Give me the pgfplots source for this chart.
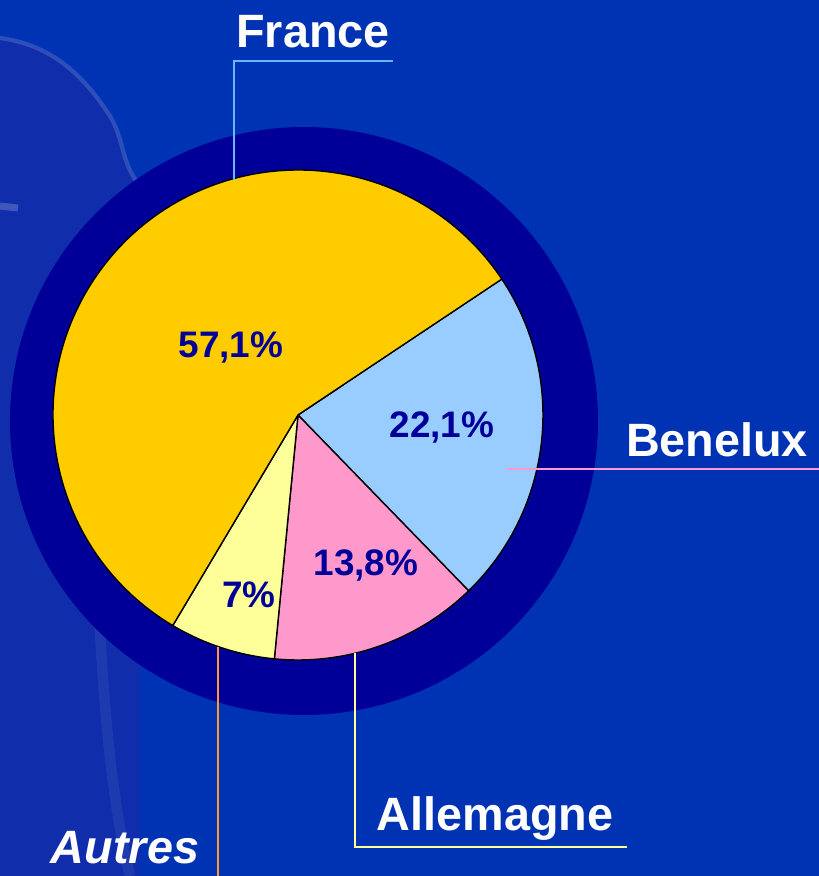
\documentclass[border=0pt]{standalone}
\usepackage{pgfplots}
\pgfplotsset{compat=1.18}
\usepackage{fontspec}
\setmainfont{Liberation Sans}
\definecolor{bg}{HTML}{0033B3}
\definecolor{ring}{HTML}{000099}
\definecolor{sil}{HTML}{142DAA}
\definecolor{cFr}{HTML}{FFCC00}
\definecolor{cBe}{HTML}{99CCFF}
\definecolor{cAl}{HTML}{FF99CC}
\definecolor{cAu}{HTML}{FFFF99}
\definecolor{lFr}{HTML}{66B8FF}
\definecolor{lBe}{HTML}{FF99CC}
\definecolor{lAl}{HTML}{FFFF99}
\definecolor{lAu}{HTML}{FF9933}
\definecolor{txt}{HTML}{000099}
% shares (%), clockwise from the France/Benelux boundary
\def\vBe{22.1}
\def\vAl{13.8}
\def\vAu{7}
\def\vFr{57.1}
\begin{document}
\begin{tikzpicture}
\pgfmathsetmacro\aA{33.7}
\pgfmathsetmacro\aB{\aA-3.6*\vBe}
\pgfmathsetmacro\aC{\aB-3.6*\vAl}
\pgfmathsetmacro\aD{\aC-3.6*\vAu}
\pgfmathsetmacro\aE{\aD-3.6*\vFr}
\def\R{2.45cm}
\begin{axis}[
  width=8.19cm, height=8.76cm, scale only axis,
  xmin=0, xmax=819, ymin=0, ymax=876,
  axis lines=none, clip=true,
]
% background
\fill[bg] (axis cs:0,0) rectangle (axis cs:819,876);
\fill[sil, opacity=0.8] (axis cs:0,838) .. controls (axis cs:60,830) and (axis cs:90,790) .. (axis cs:110,760)
  .. controls (axis cs:125,735) and (axis cs:120,715) .. (axis cs:140,690)
  -- (axis cs:140,0) -- (axis cs:0,0) -- cycle;
\draw[white, opacity=0.15, line width=1.2pt] (axis cs:0,838) .. controls (axis cs:60,830) and (axis cs:90,790) .. (axis cs:110,760)
  .. controls (axis cs:125,735) and (axis cs:120,715) .. (axis cs:140,690);
\draw[white, opacity=0.06, line width=3pt] (axis cs:95,360) .. controls (axis cs:100,200) and (axis cs:110,80) .. (axis cs:130,0);
\draw[white, opacity=0.2, line width=2pt] (axis cs:0,670) -- (axis cs:18,668);
% dark ring
\fill[ring] (axis cs:304,455) circle[radius=2.94cm];
% slices
\filldraw[fill=cBe, draw=black, line width=0.4pt] (axis cs:298,461) -- ++(\aA:\R) arc[start angle=\aA, end angle=\aB, radius=\R] -- cycle;
\filldraw[fill=cAl, draw=black, line width=0.4pt] (axis cs:298,461) -- ++(\aB:\R) arc[start angle=\aB, end angle=\aC, radius=\R] -- cycle;
\filldraw[fill=cAu, draw=black, line width=0.4pt] (axis cs:298,461) -- ++(\aC:\R) arc[start angle=\aC, end angle=\aD, radius=\R] -- cycle;
\filldraw[fill=cFr, draw=black, line width=0.4pt] (axis cs:298,461) -- ++(\aD:\R) arc[start angle=\aD, end angle=\aE, radius=\R] -- cycle;
% leader lines
\draw[lFr, line width=0.75pt] (axis cs:234,696) -- (axis cs:234,815) -- (axis cs:393,815);
\draw[lBe, line width=0.75pt] (axis cs:506,407) -- (axis cs:819,407);
\draw[lAl, line width=0.75pt] (axis cs:355,223) -- (axis cs:355,29) -- (axis cs:627,29);
\draw[lAu, line width=0.75pt] (axis cs:218,229) -- (axis cs:218,0);
% percentage labels
\node[txt, font=\fontsize{10.5}{12}\selectfont\bfseries] at (axis cs:231,528) {57,1\%};
\node[txt, font=\fontsize{10.5}{12}\selectfont\bfseries] at (axis cs:442,449) {22,1\%};
\node[txt, font=\fontsize{10.5}{12}\selectfont\bfseries] at (axis cs:366,311) {13,8\%};
\node[txt, font=\fontsize{10.5}{12}\selectfont\bfseries] at (axis cs:249,281) {7\%};
% category labels
\node[white, font=\fontsize{13.3}{15}\selectfont\bfseries] at (axis cs:313,844) {France};
\node[white, font=\fontsize{13.3}{15}\selectfont\bfseries] at (axis cs:717,436) {Benelux};
\node[white, font=\fontsize{13.3}{15}\selectfont\bfseries] at (axis cs:495,57) {Allemagne};
\node[white, font=\fontsize{13.3}{15}\selectfont\bfseries\itshape] at (axis cs:125,28) {Autres};
\end{axis}
\end{tikzpicture}
\end{document}
